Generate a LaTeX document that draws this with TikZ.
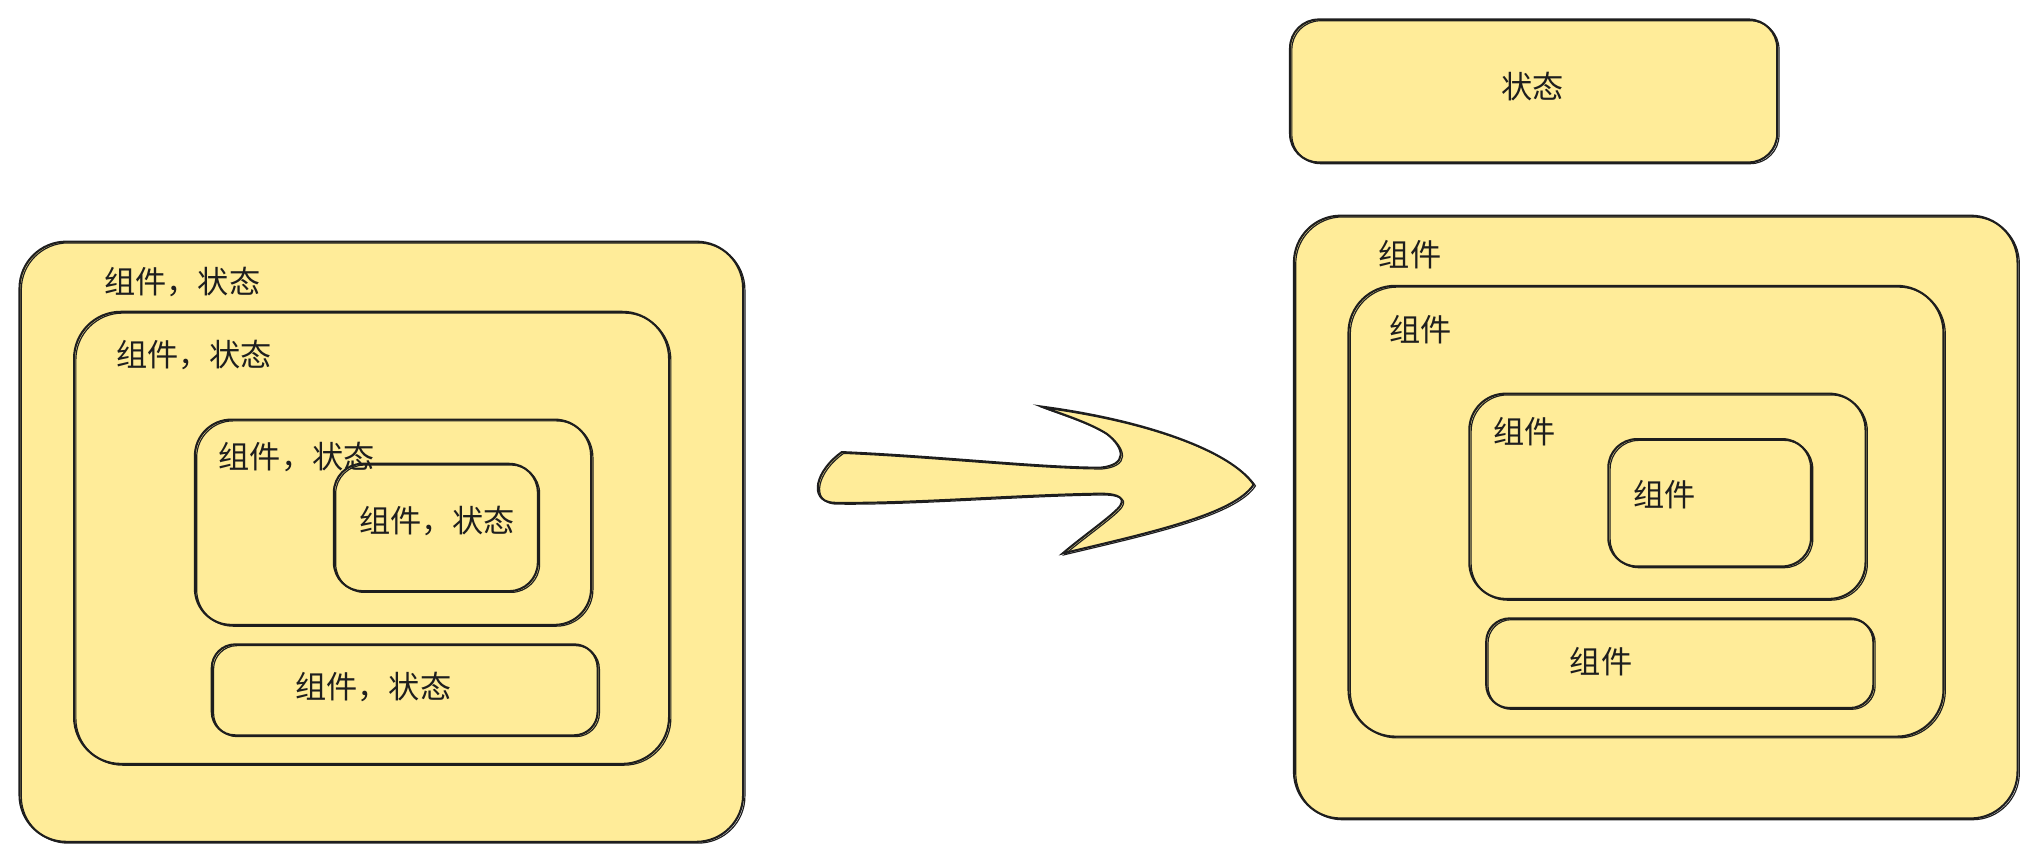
\documentclass[tikz,border=0pt]{standalone}
\usepackage{fontspec}
\newfontfamily\cjk{Noto Sans CJK SC}
\usepackage{tikz}
\usepackage{xcolor}
\definecolor{sketchfill}{HTML}{FFEC99}
\definecolor{sketchline}{HTML}{1E1E1E}
\tikzstyle{mybox} = [draw=sketchline, fill=sketchfill, line width=0.8pt]
\tikzstyle{roughline} = [draw=sketchline, line width=0.45pt, xshift=0.7pt, yshift=-0.5pt]
\tikzstyle{boxlabel} = [font=\cjk\fontsize{12}{14}\selectfont, text=sketchline,
inner sep=0pt, anchor=west]
\newcommand{\sketchbox}[3][16pt]{%
\path[mybox, rounded corners=#1] (#2) rectangle (#3);
\draw[roughline, rounded corners=#1] (#2) rectangle (#3);
}
\newcommand{\bigarrow}{(648,348) .. controls (720,351) and (800,360) .. (847,360)
    .. controls (868,358) and (866,345) .. (852,334)
    .. controls (838,325) and (815,318) .. (802,313)
    .. controls (885,324) and (948,348) .. (965,373)
    .. controls (950,396) and (885,410) .. (818,426)
    .. controls (832,414) and (852,400) .. (860,392)
    .. controls (868,384) and (862,380) .. (847,380)
    .. controls (780,381) and (700,388) .. (641,387)
    .. controls (622,385) and (628,362) .. (648,348)}

\begin{document}
\begin{tikzpicture}[x=0.5pt, y=-0.5pt]
        \useasboundingbox (0,0) rectangle (1568,663);
        % before: every component keeps its own state
        \sketchbox[18pt]{15,186}{572,648}
        \sketchbox[18pt]{57,240}{515,588}
        \sketchbox[14pt]{150,323}{455,481}
        \sketchbox[11pt]{257,357}{414,455}
        \sketchbox[9pt]{163,496}{460,566}
        \node[boxlabel] (oldA) at (80,217) {组件，状态};
        \node[boxlabel] (oldB) at (89,273) {组件，状态};
        \node[boxlabel] (oldC) at (168,352) {组件，状态};
        \node[boxlabel] (oldD) at (276,401) {组件，状态};
        \node[boxlabel] (oldE) at (227,529) {组件，状态};
        % the big arrow
        \path[mybox] \bigarrow -- cycle;
        \draw[roughline] \bigarrow;
        % after: state lifted out of the components
        \sketchbox[11pt]{993,15}{1368,125}
        \sketchbox[18pt]{996,166}{1553,630}
        \sketchbox[18pt]{1038,220}{1496,567}
        \sketchbox[14pt]{1131,303}{1436,461}
        \sketchbox[11pt]{1238,338}{1394,436}
        \sketchbox[9pt]{1144,476}{1442,545}
        \node[boxlabel, anchor=center] (store) at (1180,67) {状态};
        \node[boxlabel] (newA) at (1061,196) {组件};
        \node[boxlabel] (newB) at (1069,254) {组件};
        \node[boxlabel] (newC) at (1149,332) {组件};
        \node[boxlabel] (newD) at (1257,381) {组件};
        \node[boxlabel] (newE) at (1208,509) {组件};
    \end{tikzpicture}
\end{document}
